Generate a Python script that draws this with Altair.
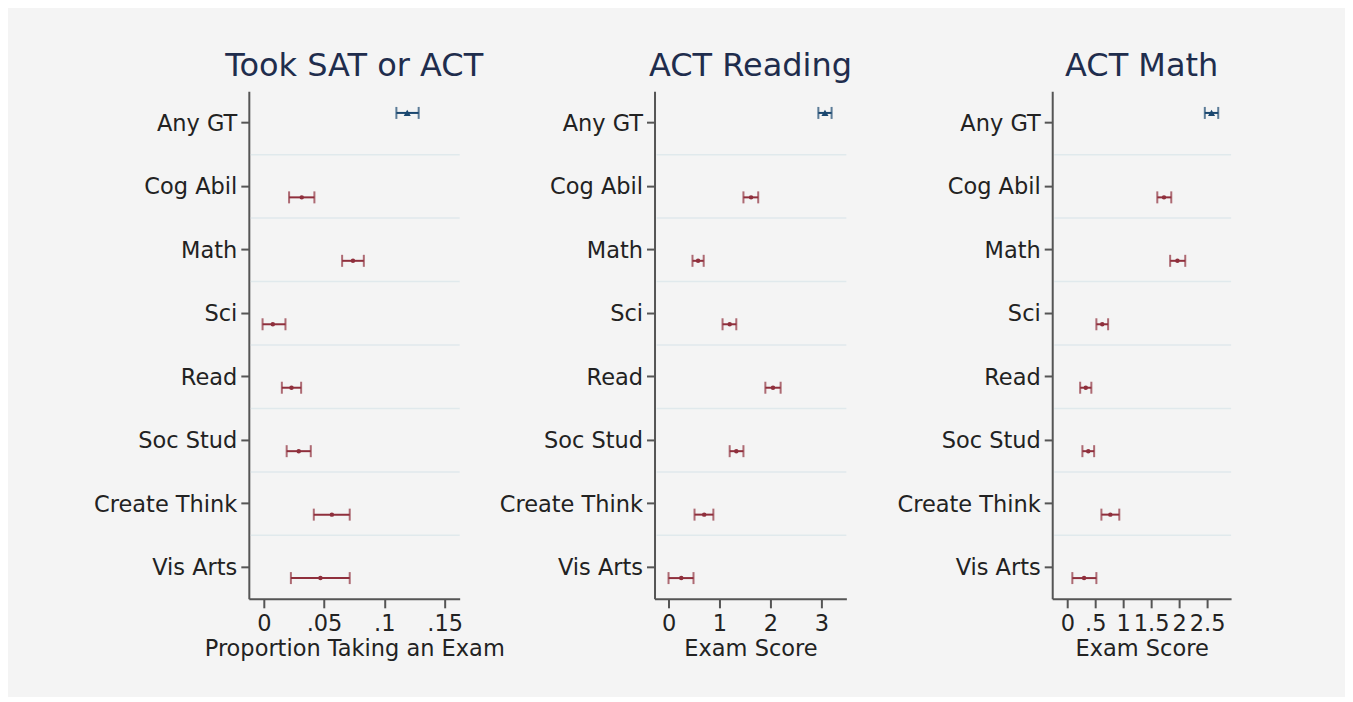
import altair as alt
import pandas as pd

# ---------------- data ----------------
categories = ["Any GT", "Cog Abil", "Math", "Sci", "Read", "Soc Stud", "Create Think", "Vis Arts"]
groups = ["gt", "subj", "subj", "subj", "subj", "subj", "subj", "subj"]

sat_est = [0.119, 0.0315, 0.074, 0.0075, 0.023, 0.029, 0.0565, 0.047]
sat_lo = [0.110, 0.021, 0.065, -0.001, 0.015, 0.019, 0.0415, 0.0225]
sat_hi = [0.1285, 0.042, 0.083, 0.018, 0.031, 0.039, 0.0713, 0.0713]

read_est = [3.07, 1.62, 0.58, 1.20, 2.05, 1.33, 0.70, 0.25]
read_lo = [2.94, 1.47, 0.47, 1.06, 1.90, 1.20, 0.51, 0.00]
read_hi = [3.20, 1.76, 0.69, 1.33, 2.20, 1.47, 0.88, 0.49]

math_est = [2.58, 1.73, 1.97, 0.625, 0.33, 0.375, 0.77, 0.30]
math_lo = [2.46, 1.61, 1.84, 0.52, 0.23, 0.27, 0.61, 0.09]
math_hi = [2.70, 1.86, 2.11, 0.73, 0.43, 0.48, 0.93, 0.52]

sat_ticks = [0, 0.05, 0.1, 0.15]
read_ticks = [0, 1, 2, 3]
math_ticks = [0, 0.5, 1, 1.5, 2, 2.5]

sat_domain = [-0.0124, 0.1625]
read_domain = [-0.275, 3.49]
math_domain = [-0.27, 2.93]

titles = ["Took SAT or ACT", "ACT Reading", "ACT Math"]
xtitles = ["Proportion Taking an Exam", "Exam Score", "Exam Score"]

# ---------------- style ----------------
FONT = "DejaVu Sans"
RED = "#8f2f3c"
BLUE = "#1a476f"
GRID = "#e0e9ec"
AXIS = "#555555"
TEXT = "#222222"
TITLE = "#1f2d4d"
H = 508

label_expr = "datum.value == 0 ? '0' : replace(toString(datum.value), '0.', '.')"


def panel(title, xtitle, est, lo, hi, domain, ticks, width):
    df = pd.DataFrame({"cat": categories, "est": est, "lo": lo, "hi": hi, "grp": groups})
    yscale = alt.Scale(domain=categories, paddingInner=0, paddingOuter=0)
    yaxis = alt.Axis(
        labelFontSize=22.5, labelColor=TEXT, labelFont=FONT, tickSize=8, tickWidth=2,
        tickColor=AXIS, domainColor=AXIS, domainWidth=2, labelPadding=4, grid=False,
        labelLimit=400, labelOffset=1,
    )
    xaxis = alt.Axis(
        values=ticks, labelExpr=label_expr, labelFontSize=22.5, titleFontSize=22.5,
        labelFont=FONT, titleFont=FONT, labelColor=TEXT, titleColor=TEXT,
        titleFontWeight="normal", tickSize=9, tickWidth=2, tickColor=AXIS,
        domainColor=AXIS, domainWidth=2, labelPadding=5, titlePadding=2,
        grid=False, labelFlush=False, labelOverlap=False,
    )
    xscale = alt.Scale(domain=domain, nice=False, zero=False)

    def Y(**kw):
        return alt.Y("cat:N", sort=categories, scale=yscale, axis=yaxis, title=None, **kw)

    def X(f):
        return alt.X(f, type="quantitative", scale=xscale, axis=xaxis, title=xtitle)

    grid = alt.Chart(pd.DataFrame({"cat": categories[1:]})).mark_rule(
        color=GRID, strokeWidth=1.5
    ).encode(y=Y(bandPosition=0), x=alt.value(2), x2=alt.value(width))

    layers = [grid]
    base = alt.Chart(df)
    for grp, color, off, shape, size in [
        ("gt", BLUE, -10, "triangle-up", 50),
        ("subj", RED, 11, "circle", 20),
    ]:
        sub = base.transform_filter(alt.datum.grp == grp)
        layers.append(sub.mark_rule(color=color, strokeWidth=2, yOffset=off).encode(
            x=X("lo"), x2="hi:Q", y=Y()))
        layers.append(sub.mark_tick(color=color, size=12, thickness=2, yOffset=off).encode(
            x=X("lo"), y=Y()))
        layers.append(sub.mark_tick(color=color, size=12, thickness=2, yOffset=off).encode(
            x=X("hi"), y=Y()))
        layers.append(sub.mark_point(color=color, filled=True, opacity=1, shape=shape,
                                     size=size, yOffset=off).encode(x=X("est"), y=Y()))

    return alt.layer(*layers).properties(
        width=width, height=H,
        title=alt.TitleParams(text=title, fontSize=32, fontWeight="normal", color=TITLE,
                              font=FONT, anchor="middle", offset=8),
    )


def spacer(width):
    # invisible filler that only reserves horizontal room between panels
    return alt.Chart(pd.DataFrame({"v": [0]})).mark_point(opacity=0).encode(
        x=alt.X("v:Q", axis=None), y=alt.Y("v:Q", axis=None)
    ).properties(width=width, height=H)


p1 = panel(titles[0], xtitles[0], sat_est, sat_lo, sat_hi, sat_domain, sat_ticks, 211)
p2 = panel(titles[1], xtitles[1], read_est, read_lo, read_hi, read_domain, read_ticks, 192)
p3 = panel(titles[2], xtitles[2], math_est, math_lo, math_hi, math_domain, math_ticks, 179)

chart = alt.hconcat(p1, spacer(195), p2, spacer(206), p3, spacing=0, bounds="flush").properties(
    background="#f4f4f4",
    padding={"left": 85, "top": 42, "right": 113, "bottom": 37},
).configure_view(stroke=None)

chart.save("out.html", embed_options={"renderer": "svg", "actions": False})
